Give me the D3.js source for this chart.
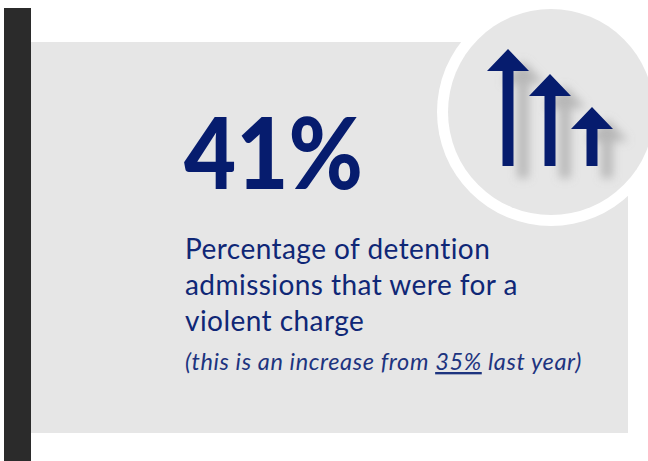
<!DOCTYPE html>
<html>
<head>
<meta charset="utf-8">
<script src="https://cdn.jsdelivr.net/npm/d3@7"></script>
<style>
html,body{margin:0;padding:0;background:#fff}
svg{display:block}
text{font-family:Lato,"Open Sans",sans-serif;fill:#0f2776}
</style>
</head>
<body>
<svg id="card" width="648" height="461"></svg>
<script>
// Figures and wording of the callout
const currentShare = [41];
const priorShare = [35];
const descriptionLines = ["Percentage of detention", "admissions that were for a", "violent charge"];
const arrowSlots = ["first", "second", "third"];
const arrowLengths = [117, 92, 59];

const navy = "#061c6e";
const panelGrey = "#e6e6e6";
const svg = d3.select("#card");

// Arrow placement: a band per arrow, a linear scale for length in pixels
const slot = d3.scaleBand().domain(arrowSlots).range([487, 613]).paddingInner(0);
const baseY = 166;
const lengthScale = d3.scaleLinear().domain([0, 117]).range([baseY, 49]);

const shadow = svg.append("defs").append("filter").attr("id", "soft")
  .attr("x", "-60%").attr("y", "-30%").attr("width", "220%").attr("height", "160%");
shadow.append("feGaussianBlur").attr("stdDeviation", 5);

// Side bar and panel
svg.append("rect").attr("x", 4).attr("y", 8).attr("width", 27).attr("height", 453).attr("fill", "#2b2b2b");
svg.append("rect").attr("x", 31).attr("y", 42).attr("width", 597).attr("height", 391).attr("fill", panelGrey);

// Badge with its white ring
svg.append("circle").attr("cx", 551).attr("cy", 112).attr("r", 114).attr("fill", "#fff");
svg.append("circle").attr("cx", 551).attr("cy", 112).attr("r", 103).attr("fill", panelGrey);

function arrowPath(d, i) {
  const cx = slot(arrowSlots[i]) + slot.bandwidth() / 2;
  const tip = lengthScale(d);
  const head = 22, halfHead = 21, halfShaft = 5.5;
  return d3.line()([
    [cx, tip], [cx + halfHead, tip + head], [cx + halfShaft, tip + head],
    [cx + halfShaft, baseY], [cx - halfShaft, baseY], [cx - halfShaft, tip + head],
    [cx - halfHead, tip + head]
  ]) + "Z";
}

const badgeClip = svg.select("defs").append("clipPath").attr("id", "badge");
badgeClip.append("circle").attr("cx", 551).attr("cy", 112).attr("r", 103);

// Drop shadows sit down and to the right of the arrows
svg.append("g").attr("clip-path", "url(#badge)").append("g")
  .attr("transform", "translate(15,12)")
  .attr("filter", "url(#soft)")
  .selectAll("path").data(arrowLengths).join("path")
  .attr("d", arrowPath).attr("fill", "#8f8f8f").attr("opacity", 0.55);

svg.append("g").selectAll("path").data(arrowLengths).join("path")
  .attr("d", arrowPath).attr("fill", navy);

// Headline figure
svg.append("text").attr("x", 184).attr("y", 189)
  .attr("textLength", 179).attr("lengthAdjust", "spacingAndGlyphs")
  .style("font-size", "100px").style("font-weight", 900).style("fill", navy)
  .text(currentShare[0] + "%");

// Description
svg.append("g").selectAll("text").data(descriptionLines).join("text")
  .attr("x", 185).attr("y", (d, i) => 259 + i * 36)
  .style("font-size", "28px").style("font-weight", 400).style("letter-spacing", "0.45px")
  .text(d => d);

// Year-on-year note
const note = svg.append("text").attr("x", 185).attr("y", 370)
  .style("font-size", "23.5px").style("font-style", "italic").style("font-weight", 400)
  .style("letter-spacing", "0.62px").style("fill", "#1d347f");
note.append("tspan").text("(this is an increase from ");
note.append("tspan").style("text-decoration", "underline").text(priorShare[0] + "%");
note.append("tspan").text(" last year)");
</script>
</body>
</html>
